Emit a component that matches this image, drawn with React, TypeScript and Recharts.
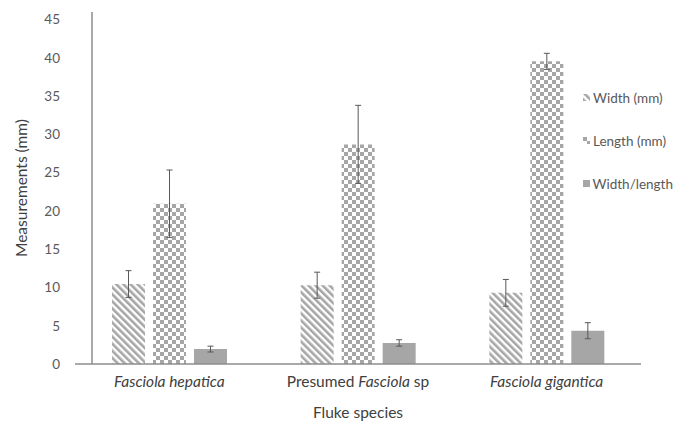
import { BarChart, Bar, XAxis, YAxis, ErrorBar, Legend, ReferenceLine } from 'recharts';

const categories = ['Fasciola hepatica', 'Presumed Fasciola sp', 'Fasciola gigantica'];
// which words of each category label are set in italics
const categoryLabelParts = [
  [{ text: 'Fasciola hepatica', italic: true }],
  [
    { text: 'Presumed ', italic: false },
    { text: 'Fasciola', italic: true },
    { text: ' sp', italic: false },
  ],
  [{ text: 'Fasciola gigantica', italic: true }],
];

const seriesNames = ['Width (mm)', 'Length (mm)', 'Width/length'];

const widthMm = [10.45, 10.3, 9.3];
const widthErr = [1.75, 1.7, 1.75];
const lengthMm = [20.95, 28.7, 39.55];
const lengthErr = [4.4, 5.1, 1.05];
const widthLength = [1.95, 2.75, 4.35];
const widthLengthErr = [0.38, 0.42, 1.05];

const yTicks = [0, 5, 10, 15, 20, 25, 30, 35, 40, 45];

const data = categories.map((name, i) => ({
  name,
  width: widthMm[i],
  widthErr: widthErr[i],
  length: lengthMm[i],
  lengthErr: lengthErr[i],
  ratio: widthLength[i],
  ratioErr: widthLengthErr[i],
}));

const FONT = 'Lato, "Open Sans", sans-serif';
const GREY = '#a6a6a6';
const AXIS = '#8c8c8c';
const TEXT = '#595959';

const Patterns = () => (
  <svg width={0} height={0} style={{ position: 'absolute' }}>
    <defs>
      <pattern id="stripes" width={5} height={5} patternUnits="userSpaceOnUse" patternTransform="rotate(-45)">
        <rect width={5} height={5} fill="#fff" />
        <rect width={2.6} height={5} fill={GREY} />
      </pattern>
      <pattern id="checks" width={8} height={8} patternUnits="userSpaceOnUse">
        <rect width={8} height={8} fill="#fff" />
        <rect width={4} height={4} fill={GREY} />
        <rect x={4} y={4} width={4} height={4} fill={GREY} />
      </pattern>
    </defs>
  </svg>
);

const CategoryTick = (props: any) => {
  const { x, y, index } = props;
  const parts = categoryLabelParts[index] || [];
  return (
    <text x={x} y={y} dy={21} textAnchor="middle" fontSize={15.5} fill="#404040" fontFamily={FONT}>
      {parts.map((p, k) => (
        <tspan key={k} fontStyle={p.italic ? 'italic' : 'normal'}>{p.text}</tspan>
      ))}
    </text>
  );
};

const legendFills: Record<string, string> = {
  'Width (mm)': 'url(#stripes)',
  'Length (mm)': 'url(#checks)',
  'Width/length': GREY,
};

const LegendBox = (props: any) => {
  const items = [...(props.payload || [])].sort(
    (a: any, b: any) => seriesNames.indexOf(a.value) - seriesNames.indexOf(b.value)
  );
  return (
    <div style={{ fontFamily: FONT, fontSize: 13.5, color: TEXT }}>
      {items.map((item: any) => (
        <div key={item.value} style={{ display: 'flex', alignItems: 'center', height: 43, whiteSpace: 'nowrap' }}>
          <svg width={7} height={7} style={{ marginRight: 3 }}>
            <rect width={7} height={7} fill={legendFills[item.value]} />
          </svg>
          {item.value}
        </div>
      ))}
    </div>
  );
};

export default function App() {
  return (
    <div style={{ position: 'absolute', left: 0, top: 0, background: '#fff' }}>
      <Patterns />
      <BarChart
        width={673}
        height={427}
        data={data}
        margin={{ top: 12, right: 32, bottom: 0, left: 0 }}
        barSize={33}
        barGap={8}
      >
        <XAxis
          dataKey="name"
          height={63}
          tickLine={false}
          tickSize={0}
          axisLine={{ stroke: AXIS, strokeWidth: 1.5 }}
          tick={<CategoryTick />}
          interval={0}
          label={{
            content: (p: any) => {
              const vb = p.viewBox;
              return (
                <text x={vb.x + vb.width / 2} y={vb.y + 54} textAnchor="middle" fontSize={15.5} fill="#404040" fontFamily={FONT}>
                  Fluke species
                </text>
              );
            },
          }}
        />
        <YAxis
          width={75}
          domain={[0, 46]}
          ticks={yTicks}
          axisLine={false}
          tickLine={false}
          tickSize={0}
          tickMargin={15}
          tick={{ fontSize: 13.5, fill: TEXT, fontFamily: FONT }}
          label={{
            content: (p: any) => {
              const vb = p.viewBox;
              const cx = vb.x + 21;
              const cy = vb.y + vb.height / 2;
              return (
                <text x={cx} y={cy} transform={`rotate(-90 ${cx} ${cy})`} textAnchor="middle" dominantBaseline="central" fontSize={15.5} fill="#404040" fontFamily={FONT}>
                  Measurements (mm)
                </text>
              );
            },
          }}
        />
        <ReferenceLine
          x={categories[0]}
          position="start"
          shape={(p: any) => (
            <line x1={p.x1 + 17} y1={p.y1} x2={p.x2 + 17} y2={p.y2} stroke={AXIS} strokeWidth={1.5} />
          )}
        />
        <Legend
          layout="vertical"
          align="center"
          verticalAlign="middle"
          content={<LegendBox />}
          wrapperStyle={{ left: 583, top: 76, width: 90 }}
        />
        <Bar dataKey="width" name="Width (mm)" fill="url(#stripes)" isAnimationActive={false}>
          <ErrorBar dataKey="widthErr" width={3} stroke="#595959" strokeWidth={1} isAnimationActive={false} />
        </Bar>
        <Bar dataKey="length" name="Length (mm)" fill="url(#checks)" isAnimationActive={false}>
          <ErrorBar dataKey="lengthErr" width={3} stroke="#595959" strokeWidth={1} isAnimationActive={false} />
        </Bar>
        <Bar dataKey="ratio" name="Width/length" fill={GREY} isAnimationActive={false}>
          <ErrorBar dataKey="ratioErr" width={3} stroke="#595959" strokeWidth={1} isAnimationActive={false} />
        </Bar>
      </BarChart>
    </div>
  );
}
